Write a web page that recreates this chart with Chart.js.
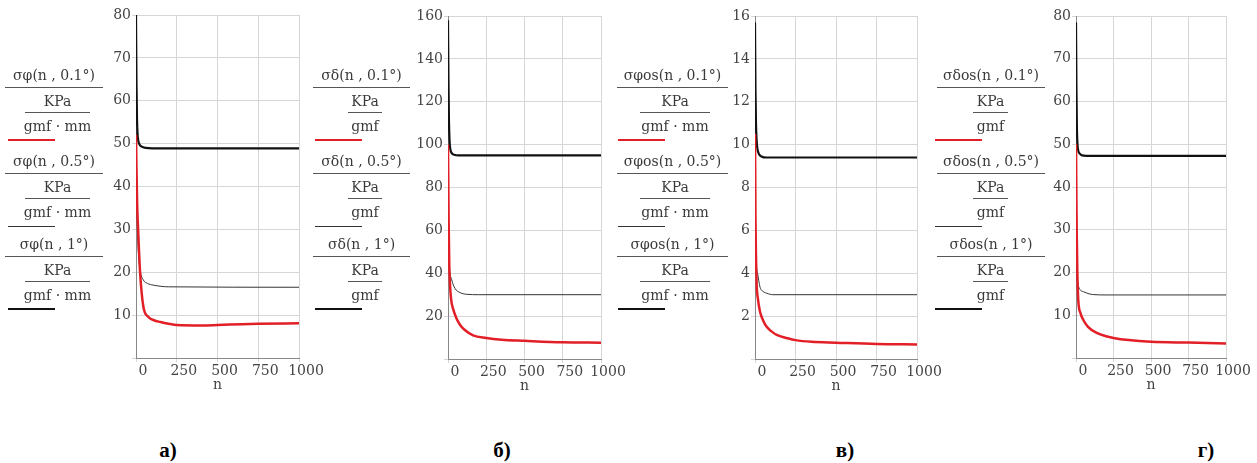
<!DOCTYPE html>
<html>
<head>
<meta charset="utf-8">
<script src="https://cdn.jsdelivr.net/npm/chart.js@4.4.1/dist/chart.umd.min.js"></script>
<style>
  body { margin: 0; background: #fff; width: 1257px; height: 463px; overflow: hidden; position: relative; font-family: "DejaVu Serif", serif; }
  canvas { position: absolute; }
  .t { position: absolute; transform: translate(-50%, -50%); white-space: nowrap; color: #3a3a3a; font-size: 14px; line-height: 1; }
  .bar { position: absolute; height: 1px; background: #555; }
  .lbl { position: absolute; transform: translate(-50%, -50%); font-family: "Liberation Serif", serif; font-weight: bold; font-size: 21px; color: #000; line-height: 1; }
</style>
</head>
<body>
<script>
// Axis ticks
const X_TICKS = [0, 250, 500, 750, 1000];

// а) σφ, y 0..80
const nA01 = [0, 3, 7, 14, 25, 45, 75, 110, 150, 200, 250, 400, 500, 650, 750, 1000];
const vA01 = [52, 44, 36, 29, 20, 12, 9.6, 8.8, 8.4, 8.0, 7.7, 7.6, 7.7, 7.9, 8.0, 8.1];
const nA05 = [0, 4, 8, 14, 25, 45, 70, 106, 200, 1000];
const vA05 = [54, 40, 31, 25, 20.5, 18.2, 17.4, 17.0, 16.6, 16.5];
const nA1 = [0, 3, 6, 10, 15, 25, 40, 60, 100, 1000];
const vA1 = [80, 64, 56, 52, 50.5, 49.6, 49.2, 49.0, 48.9, 48.9];

// б) σδ, y 0..160
const nB01 = [0, 4, 8, 13, 20, 35, 55, 78, 110, 164, 250, 350, 500, 750, 1000];
const vB01 = [100, 65, 45, 35, 28, 23, 19, 16, 13.5, 11, 9.8, 9.0, 8.5, 7.8, 7.6];
const nB05 = [0, 4, 10, 24, 45, 78, 120, 200, 1000];
const vB05 = [62, 50, 42, 37, 33, 31, 30.2, 30, 30];
const nB1 = [0, 3, 6, 10, 15, 25, 40, 70, 1000];
const vB1 = [158, 130, 112, 102, 98, 96, 95.3, 95, 95];

// в) σφos, y 0..16
const nC01 = [0, 3, 6, 10, 18, 31, 50, 72, 100, 134, 200, 250, 350, 500, 750, 1000];
const vC01 = [10.5, 6.5, 4.8, 3.5, 2.8, 2.2, 1.8, 1.5, 1.3, 1.12, 0.97, 0.88, 0.8, 0.76, 0.7, 0.68];
const nC05 = [0, 4, 9, 16, 31, 50, 72, 110, 1000];
const vC05 = [6, 5, 4.3, 4.0, 3.35, 3.15, 3.07, 3.0, 3.0];
const nC1 = [0, 3, 6, 10, 15, 25, 40, 70, 1000];
const vC1 = [15.7, 12.5, 11, 10.2, 9.8, 9.55, 9.45, 9.4, 9.4];

// г) σδos, y 0..80
const nD01 = [0, 3, 5, 9, 15, 30, 49, 80, 138, 200, 250, 350, 500, 750, 1000];
const vD01 = [50, 36, 29, 20, 13.6, 10.5, 8.9, 7.3, 5.9, 5.1, 4.7, 4.2, 3.8, 3.6, 3.4];
const nD05 = [0, 2, 5, 12, 27, 50, 71, 110, 200, 1000];
const vD05 = [32, 26, 20, 17.5, 16, 15.5, 15.2, 14.85, 14.75, 14.75];
const nD1 = [0, 3, 6, 10, 15, 25, 40, 70, 1000];
const vD1 = [78.5, 63, 54, 50, 48.5, 47.8, 47.4, 47.3, 47.3];

// Legend texts
const NAMES_A = ['σφ(n , 0.1°)', 'σφ(n , 0.5°)', 'σφ(n , 1°)'];
const NAMES_B = ['σδ(n , 0.1°)', 'σδ(n , 0.5°)', 'σδ(n , 1°)'];
const NAMES_C = ['σφos(n , 0.1°)', 'σφos(n , 0.5°)', 'σφos(n , 1°)'];
const NAMES_D = ['σδos(n , 0.1°)', 'σδos(n , 0.5°)', 'σδos(n , 1°)'];
const PANEL_LABELS = ['а)', 'б)', 'в)', 'г)'];

// Series styles: 0.1° red, 0.5° thin, 1° thick black
const STYLES = [
  { color: '#e21f26', width: 2.5 },
  { color: '#333', width: 1 },
  { color: '#111', width: 2.2 }
];

const panels = [
  { x0: 136, x1: 299, top: 15, bot: 358, ymax: 80, step: 10, names: NAMES_A, den: 'gmf · mm',
    leg: { barL: 5, barR: 103, kL: 25, kR: 90, sL: 8 }, lblX: 168,
    series: [[nA01, vA01], [nA05, vA05], [nA1, vA1]] },
  { x0: 448, x1: 601, top: 16, bot: 359, ymax: 160, step: 20, names: NAMES_B, den: 'gmf',
    leg: { barL: 313, barR: 410, kL: 348, kR: 382, sL: 315 }, lblX: 502,
    series: [[nB01, vB01], [nB05, vB05], [nB1, vB1]] },
  { x0: 755, x1: 917, top: 16, bot: 359, ymax: 16, step: 2, names: NAMES_C, den: 'gmf · mm',
    leg: { barL: 617, barR: 728, kL: 640, kR: 710, sL: 618 }, lblX: 845,
    series: [[nC01, vC01], [nC05, vC05], [nC1, vC1]] },
  { x0: 1076, x1: 1226, top: 16, bot: 358, ymax: 80, step: 10, names: NAMES_D, den: 'gmf',
    leg: { barL: 937, barR: 1045, kL: 973, kR: 1008, sL: 935 }, lblX: 1206,
    series: [[nD01, vD01], [nD05, vD05], [nD1, vD1]] }
];

const TICK_FONT = { family: 'DejaVu Serif', size: 14 };

function addText(cls, txt, cx, cy) {
  const d = document.createElement('div');
  d.className = cls;
  d.textContent = txt;
  d.style.left = cx + 'px';
  d.style.top = cy + 'px';
  document.body.appendChild(d);
}

function addBar(l, r, y, h, color) {
  const d = document.createElement('div');
  d.className = 'bar';
  d.style.left = l + 'px';
  d.style.width = (r - l) + 'px';
  d.style.top = y + 'px';
  d.style.height = h + 'px';
  d.style.background = color;
  document.body.appendChild(d);
}

/** Mathcad-style fraction legend to the left of the plot */
function drawLegend(p) {
  const offs = [0, 86, 169];
  const g = p.leg;
  offs.forEach((o, i) => {
    const cx = (g.barL + g.barR) / 2;
    const kx = (g.kL + g.kR) / 2;
    addText('t', p.names[i], cx, 75 + o);
    addBar(g.barL, g.barR, 87 + o, 1, '#555');
    addText('t', 'KPa', kx, 101 + o);
    addBar(g.kL, g.kR, 112 + o, 1, '#555');
    addText('t', p.den, kx, 126 + o);
    const st = STYLES[i];
    addBar(g.sL, g.sL + 47, 140 + o - st.width / 2, st.width, st.color);
  });
}

function makeChart(p) {
  const padTop = 12, yW = 45, padRight = 32, xH = 36;
  const w = yW + (p.x1 - p.x0) + padRight;
  const h = padTop + (p.bot - p.top) + xH;
  const canvas = document.createElement('canvas');
  canvas.width = w; canvas.height = h;
  canvas.style.left = (p.x0 - yW) + 'px';
  canvas.style.top = (p.top - padTop) + 'px';
  canvas.style.width = w + 'px';
  canvas.style.height = h + 'px';
  document.body.appendChild(canvas);

  new Chart(canvas, {
    type: 'line',
    data: {
      datasets: p.series.map(([ns, vs], i) => ({
        data: ns.map((n, k) => ({ x: n, y: vs[k] })),
        borderColor: STYLES[i].color,
        borderWidth: STYLES[i].width,
        pointRadius: 0,
        cubicInterpolationMode: 'monotone',
        fill: false
      }))
    },
    options: {
      responsive: false,
      animation: false,
      devicePixelRatio: 1,
      layout: { padding: { top: padTop, right: padRight, left: 0, bottom: 0 } },
      plugins: { legend: { display: false }, tooltip: { enabled: false } },
      scales: {
        x: {
          type: 'linear', min: 0, max: 1000,
          afterFit: s => { s.height = xH; },
          afterBuildTicks: s => { s.ticks = X_TICKS.map(v => ({ value: v })); },
          ticks: { labelOffset: 7, padding: 1, color: '#444', font: TICK_FONT, maxRotation: 0, autoSkip: false,
                   callback: v => String(v) },
          grid: { color: '#d6d6d6', tickLength: 4 },
          border: { color: '#888' },
          title: { display: true, text: 'n', color: '#444', font: TICK_FONT, padding: 0 }
        },
        y: {
          min: 0, max: p.ymax,
          afterFit: s => { s.width = yW; },
          ticks: { stepSize: p.step, padding: 1, color: '#444', font: TICK_FONT, callback: v => (v === 0 ? '' : String(v)) },
          grid: { color: '#d6d6d6', tickLength: 4 },
          border: { color: '#888' }
        }
      }
    }
  });
}

panels.forEach((p, i) => {
  makeChart(p);
  drawLegend(p);
  addText('lbl', PANEL_LABELS[i], p.lblX, 450);
});
</script>
</body>
</html>
